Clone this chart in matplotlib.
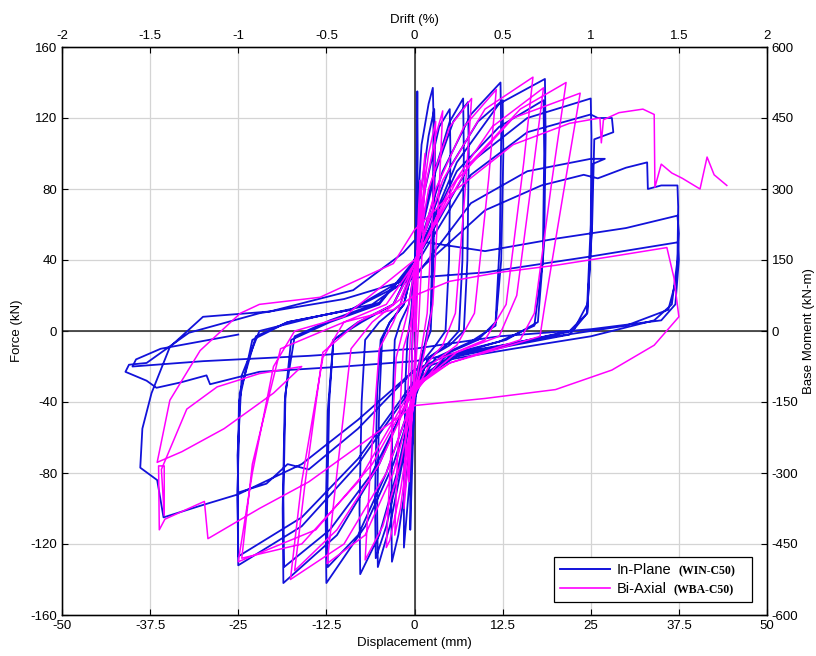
import matplotlib
matplotlib.use("Agg")
import matplotlib.pyplot as plt
from matplotlib.lines import Line2D
from matplotlib.offsetbox import TextArea, DrawingArea

plt.rcParams['font.family'] = ['Liberation Sans', 'DejaVu Sans']

# ---------------- axis ticks ----------------
disp_ticks = [-50, -37.5, -25, -12.5, 0, 12.5, 25, 37.5, 50]
force_ticks = [-160, -120, -80, -40, 0, 40, 80, 120, 160]
drift_ticks = [-2, -1.5, -1, -0.5, 0, 0.5, 1, 1.5, 2]
moment_ticks = [-600, -450, -300, -150, 0, 150, 300, 450, 600]

series_names = ["In-Plane", "Bi-Axial"]
series_codes = ["(WIN-C50)", "(WBA-C50)"]

# ---------------- In-Plane (WIN-C50) hysteresis path ----------------
inplane_disp = [
    0, 0.2, 0.35, 0.4, 0.45, 0.3, 0.1, -0.2, -0.5, -0.6, -0.6, -0.4, -0.2,
    0.3, 1.0, 2.0, 2.6, 2.7, 2.6, 2.3, 1.6, 0.5, 0, -0.6, -1.2, -1.5, -1.5, -1.3, -1.0,
    -0.5, 0, 0.8, 2.0, 2.8, 2.9, 2.7, 2.3, 1.5, 0.5, -0.2, -1.2, -2.3, -3.2, -3.3, -3.1, -2.8,
    -2.0, -0.8, 0, 1.5, 3.5, 5.0, 5.1, 4.9, 4.4, 3.0, 1.0, 0, -1.5, -3.5, -5.2, -5.3, -5.0, -4.6,
    -3.5, -1.5, 0, 2.5, 5.0, 6.9, 7.0, 6.8, 6.3, 4.5, 2.0, 0, -2.0, -4.0, -5.5, -5.6, -5.3, -4.8,
    -3.5, -1.5, 0, 3.0, 5.5, 7.6, 7.7, 7.5, 7.0, 5.0, 2.0, 0, -2.5, -5.0, -7.7, -7.8, -7.5, -7.0,
    -5.0, -2.0, 0, 4.0, 8.0, 12.2, 12.3, 12.1, 11.5, 9.0, 5.0, 1.0, 0, -3.0, -7.0, -12.5, -12.6, -12.3, -11.5,
    -8.0, -3.0, 0, 5.0, 9.0, 12.5, 12.6, 12.3, 11.5, 8.0, 3.0, 0, -4.0, -8.0, -12.3, -12.4, -12.1, -11.5,
    -7.5, -3.0, 0, 6.0, 12.0, 18.5, 18.6, 18.4, 17.5, 13.0, 6.0, 0, -5.0, -11.0, -18.6, -18.7, -18.4, -17.5,
    -12.0, -5.0, 0, 6.0, 12.0, 18.3, 18.4, 18.2, 17.0, 12.0, 5.0, 0, -6.0, -12.0, -18.5, -18.6, -18.3, -17.0,
    -12.0, -5.0, 0, 8.0, 16.0, 25.0, 25.1, 25.0, 24.5, 22.5, 15.0, 6.0, 0, -8.0, -16.0, -25.0, -25.1, -24.9, -23.0,
    -18.0, -9.0, -2.0, 0, 8.0, 16.0, 25.0, 26.0, 28.0, 28.2, 25.5, 25.2, 24.5, 22.0, 14.0, 5.0, 0, -8.0, -16.0, -25.0, -25.1, -24.8, -22.5,
    -18.0, -9.0, 0, 8.0, 16.0, 25.0, 27.0, 25.2, 25.1, 24.5, 22.0, 14.0, 5.0, 0, -8.0, -15.0, -18.0, -21.0, -25.0, -25.1, -24.5, -22.0,
    -14.0, -6.0, 0, 10.0, 18.0, 24.0, 26.0, 30.0, 33.0, 33.1, 35.0, 37.3, 37.4, 37.3, 36.5, 34.0, 25.0, 14.0, 5.0, 0,
    -8.0, -16.0, -25.0, -30.0, -35.6, -36.5, -38.9, -38.6, -37.3, -36.6,
    -34.7, -30.0, -20.5, -8.7, -1.6, 0, 10.0, 20.0, 30.0, 37.3, 37.5, 37.2, 36.0, 30.0, 20.0, 10.0, 0,
    -10.0, -22.0, -29.0, -29.5, -33.2, -36.6, -38.0, -41.0, -40.5, -38.0, -32.0, -22.0, -10.0,
    0, 10.0, 25.0, 37.4, 37.5, 37.0, 35.0, 25.0, 12.0, 0, -15.0, -30.0, -40.0, -39.5, -36.0, -25.0,
]
inplane_force = [
    0, 60, 110, 135, 100, 40, -10, -60, -100, -112, -80, -20, 10,
    60, 105, 128, 137, 120, 60, 10, -5, -25, -45, -80, -108, -122, -90, -30, -5,
    10, 35, 75, 110, 125, 100, 40, 0, -8, -20, -45, -85, -115, -130, -100, -40, -5,
    5, 15, 35, 80, 115, 125, 100, 40, 0, -8, -18, -35, -70, -110, -133, -100, -40, -5,
    5, 15, 40, 85, 118, 131, 100, 40, 0, -8, -15, -35, -75, -110, -128, -95, -35, -5,
    5, 15, 40, 90, 118, 129, 100, 40, 0, -8, -15, -35, -80, -115, -137, -100, -40, -5,
    5, 15, 40, 90, 122, 140, 110, 50, 5, -5, -12, -28, -38, -75, -110, -142, -105, -45, -5,
    5, 15, 40, 92, 118, 130, 100, 40, 3, -6, -15, -35, -80, -115, -133, -100, -40, -5,
    5, 15, 38, 95, 128, 142, 110, 50, 5, -5, -12, -30, -75, -115, -142, -100, -40, -5,
    5, 15, 40, 90, 115, 130, 100, 40, 3, -6, -14, -32, -80, -112, -133, -95, -35, -3,
    6, 16, 38, 95, 120, 131, 110, 60, 15, 0, -6, -14, -30, -75, -110, -132, -95, -40, -5,
    5, 12, 28, 36, 88, 112, 122, 120, 120, 112, 108, 60, 10, -2, -8, -15, -28, -72, -105, -127, -90, -35, -3,
    5, 12, 30, 72, 90, 97, 97, 94, 55, 10, 0, -7, -13, -22, -55, -78, -75, -86, -91, -70, -25, 0,
    8, 15, 32, 68, 82, 88, 86, 92, 95, 80, 82, 82, 70, 40, 15, 6, -3, -10, -16, -22,
    -50, -75, -92, -98, -105, -84, -77, -55, -35, -28,
    -9, 8, 11, 23, 44, 51, 45, 52, 58, 65, 55, 30, 12, 3, -3, -10, -17,
    -20, -23, -30, -25, -29, -32, -28, -23, -19, -18, -1, 10, 18,
    30, 33, 42, 50, 40, 15, 6, 1, -3, -10, -14, -17, -20, -16, -10, -2,
]

# ---------------- Bi-Axial (WBA-C50) hysteresis path ----------------
biaxial_disp = [
    0, 0.3, 0.6, 0.8, 0.6, 0.2, -0.3, -0.6, -0.8, -0.6, -0.2,
    0.5, 1.0, 1.5, 1.2, 0.6, 0, -0.8, -1.5, -1.2, -0.6,
    0, 1.0, 2.0, 3.0, 2.6, 1.8, 1.0, 0, -1.0, -2.0, -2.8, -2.4, -1.6,
    -0.5, 0, 1.5, 3.0, 4.0, 3.5, 2.6, 1.5, 0, -2.0, -3.5, -4.0, -3.5, -2.6,
    -1.0, 0, 2.0, 5.0, 8.1, 7.2, 5.8, 4.0, 1.0, 0, -2.0, -4.5, -7.0, -6.3, -5.0,
    -3.0, 0, 3.0, 7.0, 11.6, 10.5, 8.5, 6.0, 2.0, 0, -3.0, -7.0, -12.4, -11.0, -9.0,
    -6.0, -2.0, 0, 4.0, 10.0, 16.8, 15.5, 13.0, 10.0, 4.0, 0, -4.0, -10.0, -17.6, -16.0, -13.0,
    -10.0, -4.0, 0, 5.0, 11.0, 18.3, 16.8, 14.5, 12.0, 6.0, 0, -5.0, -11.0, -17.0, -15.5, -13.0,
    -8.0, -3.0, 0, 6.0, 14.0, 23.5, 21.0, 18.5, 17.8, 12.0, 5.0, 0, -6.0, -14.0, -25.0, -23.0, -20.0, -17.0,
    -10.0, 0, 8.0, 15.0, 21.5, 19.5, 17.0, 15.0, 5.0, 0, -8.0, -16.0, -24.5, -23.0, -19.0,
    -10.0, -3.0, 0, 5.0, 12.0, 20.0, 28.0, 35.8, 36.8, 37.5, 34.0, 28.0, 20.0, 10.0, 0,
    -8.0, -15.0, -22.0, -29.3, -29.8, -35.4, -36.2, -36.3, -35.5, -35.5, -35.9,
    -32.3, -28.0, -22.0, -16.0, -20.0, -27.0, -33.0, -36.5,
    -34.7, -30.4, -24.7, -22.0, -13.4, -3.0, 0, 6.0, 14.0, 22.0,
    26.3, 26.5, 26.8, 29.0, 32.4, 34.0, 34.1, 35.0, 36.5, 38.0, 40.5, 41.5, 42.5, 44.3,
]
biaxial_force = [
    0, 40, 70, 85, 40, 0, -40, -70, -85, -40, 0,
    45, 80, 100, 55, 5, -30, -70, -100, -55, -5,
    25, 70, 100, 118, 70, 10, -10, -35, -70, -100, -115, -70, -10,
    5, 30, 80, 110, 124, 80, 15, -10, -38, -90, -118, -122, -80, -15,
    10, 35, 80, 115, 131, 80, 10, -8, -22, -35, -75, -110, -129, -80, -10,
    5, 35, 80, 115, 136, 85, 10, -8, -20, -35, -80, -115, -131, -80, -10,
    5, 18, 38, 85, 125, 143, 95, 15, -5, -15, -35, -80, -120, -140, -85, -15,
    5, 15, 38, 80, 115, 137, 90, 20, -3, -12, -32, -75, -112, -135, -85, -12,
    5, 15, 38, 85, 120, 134, 75, 15, -3, -10, -18, -32, -75, -112, -130, -80, -20, 0,
    8, 40, 95, 125, 140, 85, 10, -5, -18, -30, -85, -120, -128, -75, -10,
    5, 12, 20, 28, 33, 37, 42, 47, 30, 8, -8, -22, -33, -38, -42,
    -65, -85, -100, -117, -96, -106, -112, -76, -76, -104, -78,
    -44, -31.5, -24, -20, -35, -55, -68, -74,
    -39, -11, 10, 15, 19, 38, 57, 80, 105, 117,
    120, 106, 119, 123, 125, 122, 81, 94, 89, 86, 80, 98, 88, 82,
]

# ---------------- figure ----------------
W, H = 816, 656
fig = plt.figure(figsize=(W / 100, H / 100), dpi=100)
L, R, T, B = 62, 767, 47, 615
ax = fig.add_axes([L / W, 1 - B / H, (R - L) / W, (B - T) / H])

ax.set_xlim(-50, 50)
ax.set_ylim(-160, 160)
ax.set_xticks(disp_ticks)
ax.set_xticklabels([f"{v:g}" for v in disp_ticks])
ax.set_yticks(force_ticks)
ax.set_yticklabels([f"{v:g}" for v in force_ticks])
ax.grid(True, color='#d4d4d4', lw=0.9)
ax.set_axisbelow(True)
ax.axhline(0, color='#222222', lw=1.1, zorder=1)
ax.axvline(0, color='#222222', lw=1.1, zorder=1)

BLUE = '#1212da'
MAGENTA = '#ff00ff'
ax.plot(inplane_disp, inplane_force, color=BLUE, lw=1.3, zorder=2)
ax.plot(biaxial_disp, biaxial_force, color=MAGENTA, lw=1.1, zorder=3)

fs = 9.5
ax.tick_params(direction='in', length=4, labelsize=fs, width=0.8)
ax.set_xlabel('Displacement (mm)', fontsize=fs, labelpad=4)
ax.set_ylabel('Force (kN)', fontsize=fs, labelpad=5)
for s in ax.spines.values():
    s.set_linewidth(1.0)

ax2 = ax.twiny()
ax2.set_xlim(-2, 2)
ax2.set_xticks(drift_ticks)
ax2.set_xticklabels([f"{v:g}" for v in drift_ticks])
ax2.tick_params(direction='in', length=4, labelsize=fs, width=0.8)
ax2.set_xlabel('Drift (%)', fontsize=fs, labelpad=5)

ax3 = ax.twinx()
ax3.set_ylim(-600, 600)
ax3.set_yticks(moment_ticks)
ax3.set_yticklabels([f"{v:g}" for v in moment_ticks])
ax3.tick_params(direction='in', length=4, labelsize=fs, width=0.8)
ax3.set_ylabel('Base Moment (kN-m)', fontsize=fs, labelpad=3)

handles = [Line2D([], [], color=BLUE, lw=1.4), Line2D([], [], color=MAGENTA, lw=1.2)]
leg = ax3.legend(handles, series_names, loc='lower right',
                 bbox_to_anchor=((752 - L) / (R - L), (B - 602) / (B - T)),
                 borderaxespad=0, fontsize=10.5, handlelength=3.4,
                 handletextpad=0.35, borderpad=0.4, labelspacing=0.35,
                 fancybox=False, framealpha=1, edgecolor='black')
leg.get_frame().set_linewidth(0.9)

# append the specimen codes (bold serif) to each legend entry
code_props = dict(fontsize=8.5, fontweight='bold', family='Liberation Serif')
rows = []
for col in leg._legend_handle_box.get_children():
    rows.extend(col.get_children())
for row, code in zip(rows, series_codes):
    ta = TextArea(code, textprops=code_props)
    ta.set_figure(fig)
    spacer = DrawingArea(3, 1)
    spacer.set_figure(fig)
    row.get_children().append(ta)
    row.get_children().append(spacer)
    row.sep = 5
    row.pad = 0

fig.savefig('out.png', dpi=100)
